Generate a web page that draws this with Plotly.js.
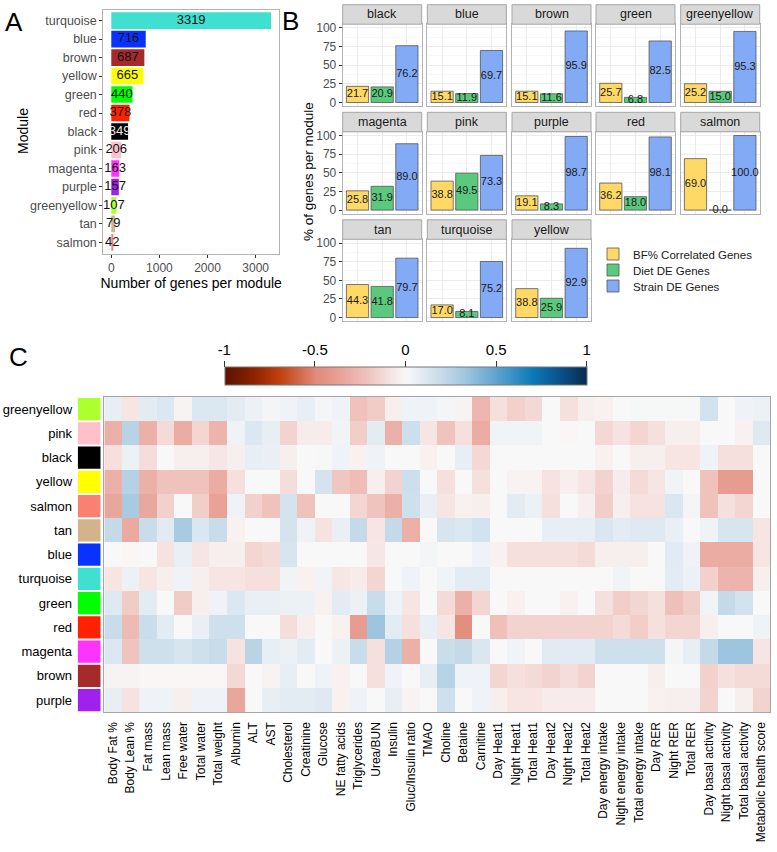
<!DOCTYPE html>
<html><head><meta charset="utf-8">
<script src="https://cdn.plot.ly/plotly-3.0.1.min.js"></script>
<style>html,body{margin:0;padding:0;background:#fff}#chart{width:777px;height:852px}</style>
</head><body><div id="chart"></div>
<script>
// ---------- Panel A data ----------
const modulesA = ['turquoise','blue','brown','yellow','green','red','black','pink','magenta','purple','greenyellow','tan','salmon'];
const genesA = [3319,716,687,665,440,378,349,206,163,157,107,79,42];

// ---------- Panel B data ----------
const modulesB = ['black','blue','brown','green','greenyellow','magenta','pink','purple','red','salmon','tan','turquoise','yellow'];
const seriesNames = ['BF% Correlated Genes','Diet DE Genes','Strain DE Genes'];
const pctBF = [21.7,15.1,15.1,25.7,25.2,25.8,38.8,19.1,36.2,69.0,44.3,17.0,38.8];
const pctDiet = [20.9,11.9,11.6,6.8,15.0,31.9,49.5,8.3,18.0,0.0,41.8,8.1,25.9];
const pctStrain = [76.2,69.7,95.9,82.5,95.3,89.0,73.3,98.7,98.1,100.0,79.7,75.2,92.9];

// ---------- Panel C data ----------
const modulesC = ['greenyellow','pink','black','yellow','salmon','tan','blue','turquoise','green','red','magenta','brown','purple'];
const traits = ['Body Fat %','Body Lean %','Fat mass','Lean mass','Free water','Total water','Total weight','Albumin','ALT','AST','Cholesterol','Creatinine','Glucose','NE fatty acids','Triglycerides','Urea/BUN','Insulin','Gluc/Insulin ratio','TMAO','Choline','Betaine','Carnitine','Day Heat1','Night Heat1','Total Heat1','Day Heat2','Night Heat2','Total Heat2','Day energy intake','Night energy intake','Total energy intake','Day RER','Night RER','Total RER','Day basal activity','Night basal activity','Total basal activity','Metabolic health score'];
const corrGreenyellow = [0.07,-0.08,0.08,0.11,-0.02,0.11,0.11,0.08,0.05,0.02, 0.04,0.07,0.02,0.04,-0.22,-0.18,-0.04,0.04,0.04,0.02, -0.02,-0.27,-0.1,-0.16,-0.13,0,-0.1,-0.04,-0.03,0, 0.01,0.01,0.01,0.01,0.15,0,0.04,0.05];
const corrPink = [-0.3,0.25,-0.3,-0.12,-0.32,-0.14,-0.28,0.04,0.11,0.07, -0.15,-0.05,-0.05,0.03,-0.17,0.08,-0.3,0.17,-0.08,-0.21, -0.1,-0.32,0.03,0.03,0.03,0,-0.01,0,-0.13,-0.09, -0.14,-0.1,-0.04,-0.04,0,0,-0.03,0.1];
const corrBlack = [-0.1,0.05,-0.11,0,-0.04,-0.04,-0.07,-0.04,0.07,0.06, -0.04,0,0.01,0.04,-0.03,0.04,0,0,-0.03,0, 0.07,-0.13,0,0,0,0,0,0,-0.03,0, -0.04,-0.04,-0.08,-0.08,0.04,-0.1,-0.1,0];
const corrYellow = [-0.3,0.26,-0.3,-0.22,-0.22,-0.22,-0.32,-0.1,0,0, -0.11,0,0.14,-0.2,-0.24,-0.04,-0.15,0.17,0,-0.1, 0,-0.1,0,-0.02,-0.02,-0.09,-0.04,-0.08,-0.15,-0.05, -0.12,-0.08,0.03,0,-0.22,-0.4,-0.4,0];
const corrSalmon = [-0.35,0.3,-0.34,-0.16,0,-0.17,-0.37,0.04,-0.16,-0.22, 0.14,-0.22,0,0,-0.14,-0.21,-0.3,0.16,0.06,-0.08, -0.03,-0.04,0,0.08,0.05,-0.1,0,-0.04,-0.17,-0.04, -0.09,-0.09,0.12,0.02,-0.22,-0.1,-0.14,0];
const corrTan = [0.2,-0.33,0.19,0.09,0.3,0.12,0.19,-0.03,0,0, 0.14,0.04,-0.09,0.06,0.2,-0.08,0.2,-0.3,0,0.13, 0.11,0.15,0,0,0,0.07,0.07,0.07,0.12,0.08, 0.1,0.1,0.06,0,0.04,0.13,0.13,-0.08];
const corrBlue = [0,-0.01,0,-0.09,0.06,-0.08,-0.04,-0.04,-0.14,-0.12, 0.13,0,0,0,0,-0.07,0,0,0.02,0, 0,0.04,-0.03,-0.1,-0.1,-0.1,-0.1,-0.12,-0.04,-0.04, -0.04,0,0.09,0.04,-0.32,-0.32,-0.32,-0.08];
const corrTurquoise = [-0.08,0.05,-0.08,-0.04,0.04,-0.04,-0.08,-0.08,-0.1,-0.1, 0.03,-0.03,0.03,-0.07,-0.05,-0.14,0,0.04,0,0.03, 0.08,0.08,0,0,0,0,0,0,0,0.03, 0,0,0.08,0.05,-0.16,-0.28,-0.28,-0.04];
const corrGreen = [0.1,-0.18,0.08,0,-0.18,-0.04,0.04,0.11,0.06,0.06, 0.05,0.05,-0.03,0.08,0.05,0.19,0.04,-0.08,0,-0.12, -0.3,-0.14,0,-0.03,0,0,-0.03,0,-0.1,-0.17, -0.14,-0.1,-0.23,-0.17,0.03,0.2,0.15,0];
const corrRed = [0.19,-0.25,0.18,0.08,0,0.06,0.16,0.16,0,0, -0.11,-0.04,0,-0.03,-0.4,0.33,0.08,-0.1,0.06,-0.08, -0.47,0,-0.23,-0.15,-0.15,-0.15,-0.15,-0.15,-0.15,-0.12, -0.17,-0.1,-0.14,-0.14,-0.04,0,0,0.04];
const corrMagenta = [0.11,-0.21,0.16,0.16,0.13,0.16,0.19,-0.09,0.24,0.07, 0.05,0.08,0,0.05,0.19,-0.1,0.26,-0.3,0,0.18, 0.2,0.12,0,0.03,0,0.09,0.09,0.09,0.16,0.16, 0.16,0.16,0.02,0.07,0.2,0.33,0.33,-0.08];
const corrBrown = [-0.02,-0.02,-0.01,-0.01,-0.01,-0.01,-0.01,-0.13,0,-0.02, 0.07,0,0.04,-0.03,0,-0.1,0.04,0,0.07,0.25, 0.04,0.04,-0.14,-0.1,-0.12,-0.15,-0.11,-0.15,0,0, 0,-0.04,0,0,-0.16,-0.1,-0.12,-0.12];
const corrPurple = [0.07,-0.09,0.04,0.04,-0.04,0.04,0.04,-0.35,0,0.07, 0.08,0.08,0.1,-0.03,0.04,0,0.07,-0.02,0,0.16, 0,0.04,-0.04,-0.08,-0.08,-0.05,-0.05,-0.05,0,0, 0,-0.03,-0.04,-0.04,-0.15,0,-0.04,-0.15];
const corrMatrix = [corrGreenyellow,corrPink,corrBlack,corrYellow,corrSalmon,corrTan,corrBlue,corrTurquoise,corrGreen,corrRed,corrMagenta,corrBrown,corrPurple];
const colorbarTicks = [-1,-0.5,0,0.5,1];
const colorbarTickText = ['-1','-0.5','0','0.5','1'];

// ---------- styles ----------
const modColor = {turquoise:'#40E0D0',blue:'#0A32FF',brown:'#A52A2A',yellow:'#FFFF00',green:'#00FF00',red:'#FF2200',black:'#000000',pink:'#FFC0CB',magenta:'#FF33FF',purple:'#A020F0',greenyellow:'#ADFF2F',tan:'#D2B48C',salmon:'#FA8072'};
const seriesColors = ['#FFD966','#5BC97D','#82AAF5'];
const legendIds = ['legend','legend2','legend3'];
const legendY = [254,270,286];
const FONT = 'Liberation Sans, Arial, sans-serif';
const W = 777, H = 852;
const dx = (a,b) => [a/W, b/W];
const dy = (top,bottom) => [1-bottom/H, 1-top/H];

const traces = [];
const layout = {
  width: W, height: H, margin:{l:0,r:0,t:0,b:0},
  paper_bgcolor:'#fff', plot_bgcolor:'#fff',
  font:{family:FONT, color:'#000'},
  showlegend:true, barmode:'overlay',
  shapes:[], annotations:[]
};

// ---------- Panel A ----------
traces.push({type:'bar', orientation:'h', x:genesA, y:modulesA, width:0.9,
  marker:{color:modulesA.map(m=>modColor[m]), line:{width:0}},
  xaxis:'x', yaxis:'y', showlegend:false, hoverinfo:'x+y'});
traces.push({type:'scatter', mode:'text', x:genesA.map(v=>v/2), y:modulesA,
  text:genesA.map(String), textposition:'middle center',
  textfont:{size:13, family:FONT, color:modulesA.map(m=>m==='black'?'#e6e6e6':'#111')},
  xaxis:'x', yaxis:'y', showlegend:false, hoverinfo:'skip'});
layout.xaxis = {domain:dx(103.3,279), anchor:'y', range:[-166,3485], tickvals:[0,1000,2000,3000],
  showgrid:false, zeroline:false, ticks:'outside', ticklen:3, tickcolor:'#333',
  tickfont:{size:12,color:'#4d4d4d'}, showline:true, mirror:true, linecolor:'#b3b3b3',
  title:{text:'Number of genes per module', font:{size:14,color:'#000'}, standoff:2}};
layout.yaxis = {domain:dy(9.5,253.5), anchor:'x', type:'category', categoryorder:'array', categoryarray:modulesA,
  range:[12.6,-0.6], showgrid:false, zeroline:false, ticks:'outside', ticklen:3, tickcolor:'#333',
  tickfont:{size:12.5,color:'#4d4d4d'}, showline:true, mirror:true, linecolor:'#b3b3b3'};
layout.annotations.push({xref:'paper', yref:'paper', x:23/W, y:1-131/H, text:'Module', textangle:-90,
  showarrow:false, xanchor:'center', yanchor:'middle', font:{size:14,color:'#000',family:FONT}});

// ---------- Panel B ----------
const colL = [342.7,427.3,512,596,680.7];
const facetW = 79;
const stripTop = [4.7,112.3,219.8];
const stripH = 19.5, panelH = 82;
const seriesVals = [pctBF,pctDiet,pctStrain];
modulesB.forEach((m,i)=>{
  const n = i+2, r = Math.floor(i/5), c = i%5;
  const xl = colL[c], xr = xl+facetW;
  const st = stripTop[r], pt = st+stripH, pb = pt+panelH;
  const xa = 'x'+n, ya = 'y'+n;
  seriesNames.forEach((s,k)=>{
    traces.push({type:'bar', x:[s], y:[seriesVals[k][i]], width:0.9, name:s, legendgroup:s,
      legend:legendIds[k], showlegend:i===0,
      marker:{color:seriesColors[k], line:{color:'#555', width:0.8}},
      xaxis:xa, yaxis:ya});
  });
  traces.push({type:'scatter', mode:'text', x:seriesNames, y:seriesVals.map(a=>a[i]/2),
    text:seriesVals.map(a=>a[i].toFixed(1)), textposition:'middle center',
    textfont:{size:11,family:FONT,color:'#1a1a1a'}, showlegend:false, hoverinfo:'skip', xaxis:xa, yaxis:ya, cliponaxis:false});
  layout['xaxis'+n] = {domain:dx(xl,xr), anchor:ya, type:'category', categoryorder:'array', categoryarray:seriesNames,
    range:[-0.6,2.6], showticklabels:false, ticks:'', showgrid:true, gridcolor:'#ebebeb', gridwidth:1,
    zeroline:false, showline:true, mirror:true, linecolor:'#b3b3b3'};
  layout['yaxis'+n] = {domain:dy(pt,pb), anchor:xa, range:[-5,105], tickvals:[0,25,50,75,100],
    showticklabels:c===0, ticks:c===0?'outside':'', ticklen:3, tickcolor:'#333',
    tickfont:{size:12,color:'#4d4d4d'}, showgrid:true, gridcolor:'#ebebeb', gridwidth:1,
    minor:{dtick:12.5, tick0:0, showgrid:true, gridcolor:'#f3f3f3', gridwidth:0.6},
    zeroline:false, showline:true, mirror:true, linecolor:'#b3b3b3'};
  layout.shapes.push({type:'rect', xref:'paper', yref:'paper', x0:xl/W, x1:xr/W, y0:1-(st+stripH)/H, y1:1-st/H,
    fillcolor:'#d9d9d9', line:{color:'#a6a6a6', width:1}, layer:'above'});
  layout.annotations.push({xref:'paper', yref:'paper', x:(xl+xr)/2/W, y:1-(st+stripH/2)/H, text:m,
    showarrow:false, xanchor:'center', yanchor:'middle', font:{size:12.5,color:'#1a1a1a',family:FONT}});
});
layout.annotations.push({xref:'paper', yref:'paper', x:308/W, y:1-172/H, text:'% of genes per module', textangle:-90,
  showarrow:false, xanchor:'center', yanchor:'middle', font:{size:13.5,color:'#000',family:FONT}});
legendIds.forEach((id,k)=>{
  layout[id] = {x:593/W, y:1-legendY[k]/H, xanchor:'left', yanchor:'middle',
    font:{size:11.5,color:'#1a1a1a',family:FONT}, bgcolor:'rgba(0,0,0,0)', itemwidth:30, borderwidth:0};
});

// ---------- Panel C ----------
const cscale = [
  [0.00,'#5c1300'],[0.08,'#8b2200'],[0.15,'#c0400c'],[0.25,'#e08a7a'],[0.30,'#e69c8e'],
  [0.35,'#ebb0a8'],[0.40,'#f0c6c0'],[0.45,'#f5e0de'],[0.50,'#f9f8f8'],[0.55,'#dfe9f2'],
  [0.60,'#c5dae9'],[0.65,'#a9cbe2'],[0.75,'#5fa3cf'],[0.85,'#0b7ab8'],[0.93,'#0a4f88'],[1.00,'#0a2a50']];
traces.push({type:'heatmap', x:traits, y:modulesC, z:corrMatrix, zmin:-1, zmax:1, colorscale:cscale,
  xaxis:'x15', yaxis:'y15', showlegend:false,
  colorbar:{orientation:'h', x:405.5/W, xanchor:'center', y:1-386/H, yanchor:'bottom',
    len:362.4, lenmode:'pixels', thickness:18, thicknessmode:'pixels', xpad:0, ypad:0,
    outlinewidth:1, outlinecolor:'#777', showticklabels:false, ticks:''}});
layout.xaxis15 = {domain:dx(104.3,770), anchor:'y15', type:'category', tickangle:-90,
  tickfont:{size:12,color:'#000'}, ticks:'outside', ticklen:4, tickcolor:'rgba(0,0,0,0)',
  showgrid:false, zeroline:false, showline:true, mirror:true, linecolor:'#a6a6a6'};
layout.yaxis15 = {domain:dy(397,712.3), anchor:'x15', type:'category', autorange:'reversed',
  showticklabels:false, ticks:'', showgrid:false, zeroline:false, showline:true, mirror:true, linecolor:'#a6a6a6'};
// module colour strip
traces.push({type:'bar', orientation:'h', x:modulesC.map(()=>1), y:modulesC, width:0.92,
  marker:{color:modulesC.map(m=>modColor[m]), line:{width:0}}, xaxis:'x16', yaxis:'y16', showlegend:false, hoverinfo:'y'});
layout.xaxis16 = {domain:dx(77.7,100.7), anchor:'y16', range:[0,1], visible:false};
layout.yaxis16 = {domain:dy(397,712.3), anchor:'x16', type:'category', autorange:'reversed',
  tickfont:{size:13,color:'#000'}, ticks:'outside', ticklen:2, tickcolor:'rgba(0,0,0,0)',
  showgrid:false, zeroline:false, showline:false};
// colorbar tick axis
traces.push({type:'scatter', x:[], y:[], xaxis:'x17', yaxis:'y17', showlegend:false, hoverinfo:'skip'});
layout.xaxis17 = {domain:dx(224.3,586.7), anchor:'y17', side:'top', range:[-1,1], tickvals:colorbarTicks, ticktext:colorbarTickText,
  ticks:'outside', ticklen:6, tickcolor:'#333', tickfont:{size:15,color:'#000'}, showgrid:false, zeroline:false, showline:false};
layout.yaxis17 = {domain:dy(368,386), anchor:'x17', range:[0,1], visible:false};

// ---------- panel letters ----------
[['A',14,22],['B',290,21.5],['C',18,357]].forEach(([t,x,y])=>{
  layout.annotations.push({xref:'paper', yref:'paper', x:x/W, y:1-y/H, text:t, showarrow:false,
    xanchor:'center', yanchor:'middle', font:{size:26,color:'#000',family:FONT}});
});

Plotly.newPlot('chart', traces, layout, {staticPlot:true, displayModeBar:false});
</script></body></html>
